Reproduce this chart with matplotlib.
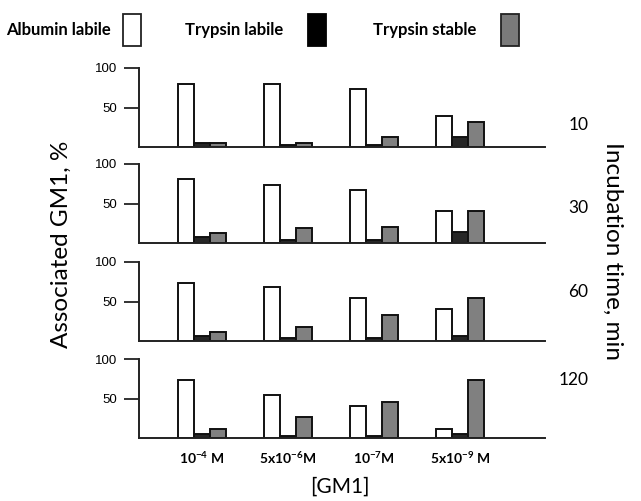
import matplotlib
matplotlib.use("Agg")
import matplotlib.pyplot as plt
from matplotlib.patches import Patch
import numpy as np

plt.rcParams['font.family'] = ['Lato', 'DejaVu Sans']
plt.rcParams['mathtext.default'] = 'regular'

# data, % of associated GM1, one row per incubation time
concentrations = ['10$^{-4}$ M', '5x10$^{-6}$M', '10$^{-7}$M', '5x10$^{-9}$ M']
times = ['10', '30', '60', '120']
fractions = ['Albumin labile', 'Trypsin labile', 'Trypsin stable']
albumin_labile = [[80, 80, 73, 39],
                  [81, 74, 67, 41],
                  [74, 68, 54, 41],
                  [74, 54, 40, 11]]
trypsin_labile = [[5, 3, 3, 13],
                  [8, 4, 4, 14],
                  [6, 4, 4, 6],
                  [5, 3, 3, 5]]
trypsin_stable = [[5, 5, 13, 32],
                  [13, 19, 20, 40],
                  [12, 18, 33, 54],
                  [12, 26, 46, 74]]

W, H = 641, 501
fig = plt.figure(figsize=(W / 100, H / 100), dpi=100)

# pixel layout of the panels (baseline y, from the top)
bases = [147, 243, 341, 438]
ax_left, ax_right, ax_h = 139, 545, 79
label_y = [0.28, 0.44, 0.62, 0.73]

x = np.arange(4)
bw = 0.186
edge = '#111111'

axes = []
for i in range(4):
    ax = fig.add_axes([ax_left / W, (H - bases[i]) / H,
                       (ax_right - ax_left) / W, ax_h / H])
    ax.bar(x - bw, albumin_labile[i], bw, color='white', edgecolor=edge, linewidth=1.4)
    ax.bar(x, trypsin_labile[i], bw, color='#262626', edgecolor=edge, linewidth=1.4)
    ax.bar(x + bw, trypsin_stable[i], bw, color='#808080', edgecolor=edge, linewidth=1.4)
    ax.set_xlim(-0.733, 3.99)
    ax.set_ylim(0, 100)
    ax.set_yticks([50, 100])
    ax.set_yticklabels(['50', '100'], family='Liberation Sans', fontsize=9.5)
    ax.tick_params(axis='y', length=11, width=1.3, color='#222222', pad=5)
    for s in ['top', 'right']:
        ax.spines[s].set_visible(False)
    for s in ['left', 'bottom']:
        ax.spines[s].set_linewidth(1.4)
        ax.spines[s].set_color('#222222')
    ax.text(1.107, label_y[i], times[i], transform=ax.transAxes,
            ha='right', va='center', fontsize=12.5)
    if i < 3:
        ax.set_xticks([])
    else:
        ax.set_xticks(x)
        ax.set_xticklabels(concentrations, fontsize=10, fontweight='bold')
        ax.tick_params(axis='x', length=0, pad=9)
    axes.append(ax)

fig.text(61 / W, (H - 244) / H, 'Associated GM1, %', rotation=90,
         ha='center', va='center', fontsize=17.5)
fig.text(613 / W, (H - 251) / H, 'Incubation time, min', rotation=270,
         ha='center', va='center', fontsize=17.5)
fig.text(340 / W, (H - 487) / H, '[GM1]', ha='center', va='center', fontsize=15)

# legend: text first, then the box, each entry placed on its own
handles = [Patch(facecolor='white', edgecolor='#222222', linewidth=1.3),
           Patch(facecolor='black', edgecolor='black', linewidth=1.3),
           Patch(facecolor='#7a7a7a', edgecolor='#222222', linewidth=1.3)]
leg_x = [6, 185, 373]
leg_pad = [0.75, 1.5, 1.5]
for h, lab, lx, pad in zip(handles, fractions, leg_x, leg_pad):
    fig.legend([h], [lab], markerfirst=False, frameon=False,
               loc='center left', bbox_to_anchor=(lx / W, (H - 30) / H),
               prop={'weight': 'bold', 'size': 12},
               handlelength=1.08, handleheight=2.6, handletextpad=pad,
               borderaxespad=0, borderpad=0)

fig.savefig('out.png', dpi=100)
